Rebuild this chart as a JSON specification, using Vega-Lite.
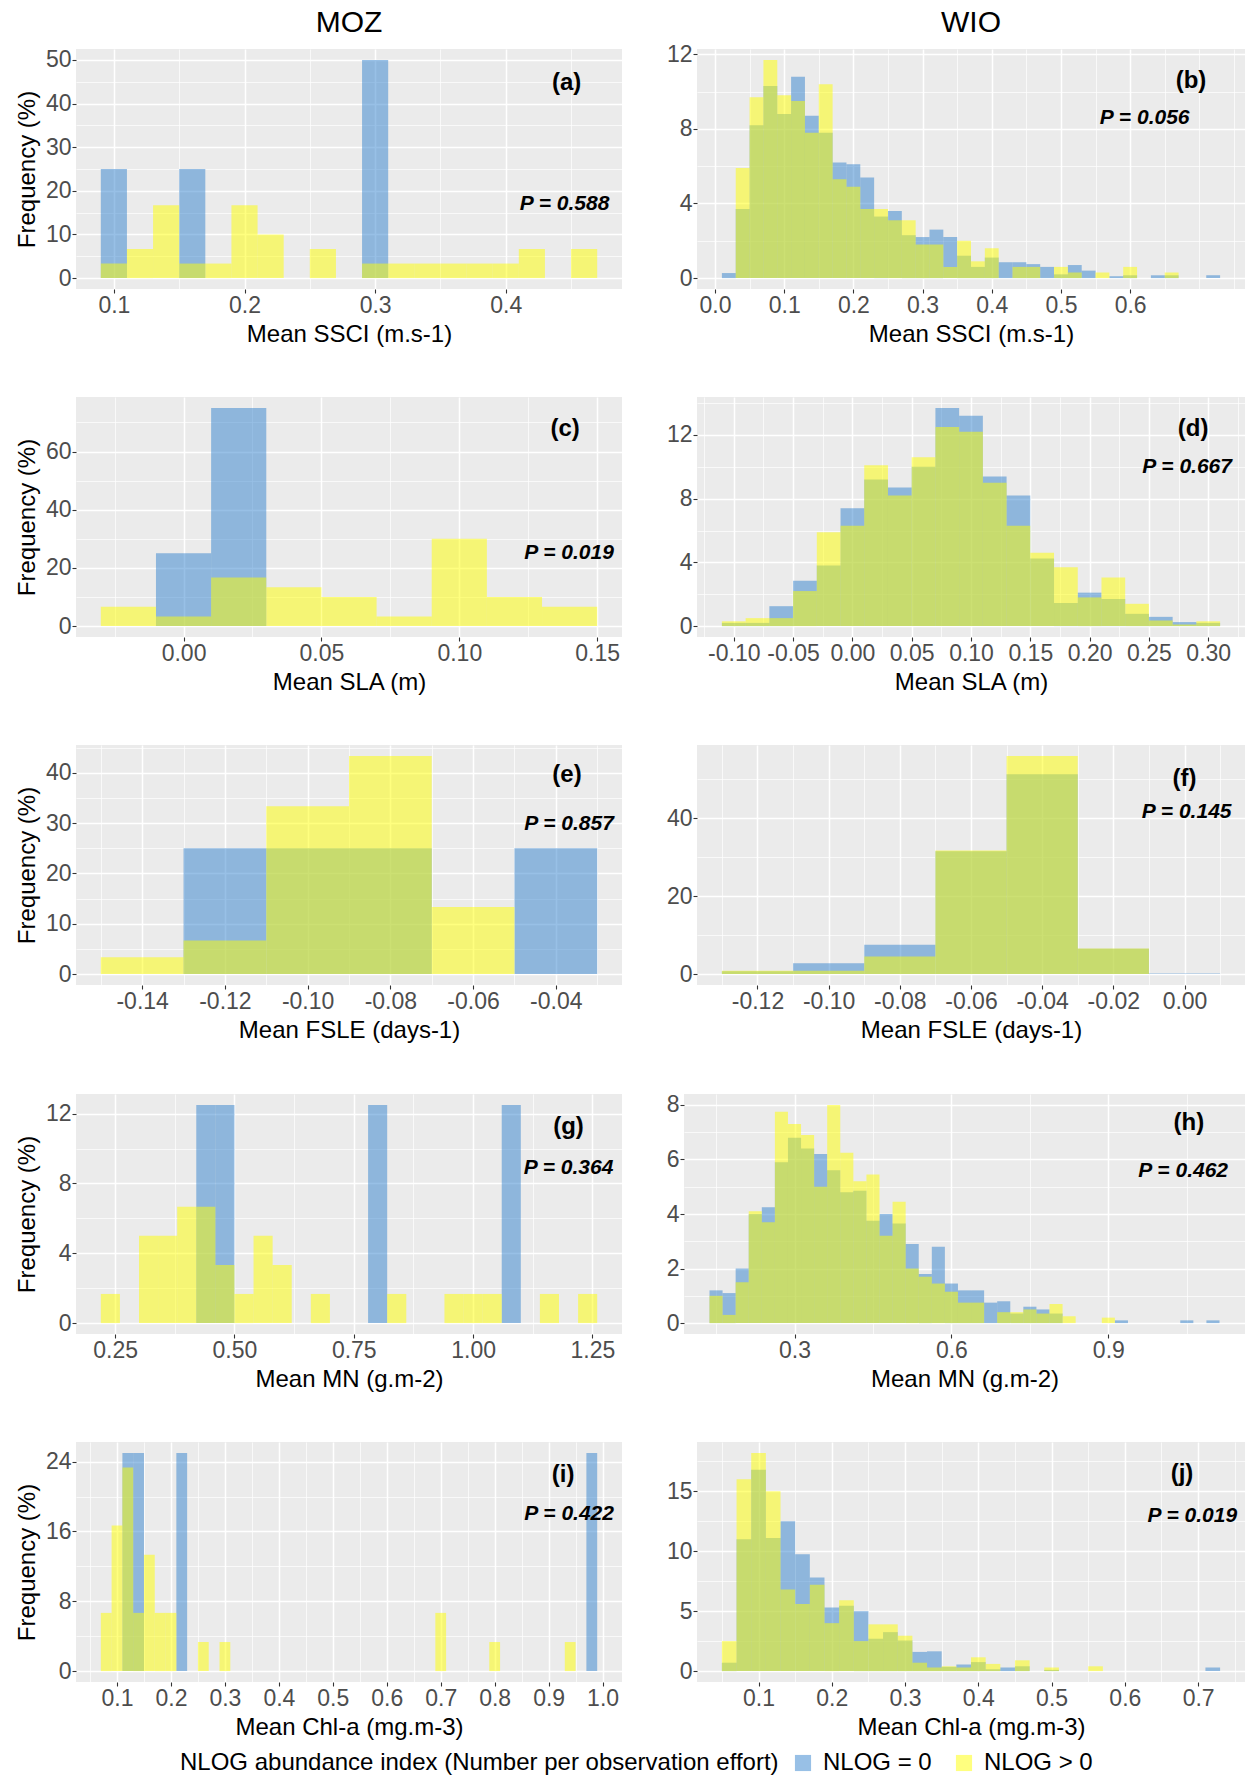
{
"$schema": "https://vega.github.io/schema/vega-lite/v6.json",
"background": "#ffffff",
"padding": {"left": 15, "top": 8, "right": 0, "bottom": 0},
"datasets": {"h": [
{"p":"a","g":"NLOG = 0","lo":0.09,"hi":0.11,"f":25},
{"p":"a","g":"NLOG = 0","lo":0.15,"hi":0.17,"f":25},
{"p":"a","g":"NLOG = 0","lo":0.29,"hi":0.31,"f":50},
{"p":"a","g":"NLOG > 0","lo":0.09,"hi":0.11,"f":3.33},
{"p":"a","g":"NLOG > 0","lo":0.11,"hi":0.13,"f":6.67},
{"p":"a","g":"NLOG > 0","lo":0.13,"hi":0.15,"f":16.67},
{"p":"a","g":"NLOG > 0","lo":0.15,"hi":0.17,"f":3.33},
{"p":"a","g":"NLOG > 0","lo":0.17,"hi":0.19,"f":3.33},
{"p":"a","g":"NLOG > 0","lo":0.19,"hi":0.21,"f":16.67},
{"p":"a","g":"NLOG > 0","lo":0.21,"hi":0.23,"f":10},
{"p":"a","g":"NLOG > 0","lo":0.25,"hi":0.27,"f":6.67},
{"p":"a","g":"NLOG > 0","lo":0.29,"hi":0.31,"f":3.33},
{"p":"a","g":"NLOG > 0","lo":0.31,"hi":0.33,"f":3.33},
{"p":"a","g":"NLOG > 0","lo":0.33,"hi":0.35,"f":3.33},
{"p":"a","g":"NLOG > 0","lo":0.35,"hi":0.37,"f":3.33},
{"p":"a","g":"NLOG > 0","lo":0.37,"hi":0.39,"f":3.33},
{"p":"a","g":"NLOG > 0","lo":0.39,"hi":0.41,"f":3.33},
{"p":"a","g":"NLOG > 0","lo":0.41,"hi":0.43,"f":6.67},
{"p":"a","g":"NLOG > 0","lo":0.45,"hi":0.47,"f":6.67},
{"p":"b","g":"NLOG = 0","lo":0.01,"hi":0.03,"f":0.27},
{"p":"b","g":"NLOG = 0","lo":0.03,"hi":0.05,"f":3.7},
{"p":"b","g":"NLOG = 0","lo":0.05,"hi":0.07,"f":8.2},
{"p":"b","g":"NLOG = 0","lo":0.07,"hi":0.09,"f":10.3},
{"p":"b","g":"NLOG = 0","lo":0.09,"hi":0.11,"f":8.8},
{"p":"b","g":"NLOG = 0","lo":0.11,"hi":0.13,"f":10.8},
{"p":"b","g":"NLOG = 0","lo":0.13,"hi":0.15,"f":8.7},
{"p":"b","g":"NLOG = 0","lo":0.15,"hi":0.17,"f":7.8},
{"p":"b","g":"NLOG = 0","lo":0.17,"hi":0.19,"f":6.2},
{"p":"b","g":"NLOG = 0","lo":0.19,"hi":0.21,"f":6.1},
{"p":"b","g":"NLOG = 0","lo":0.21,"hi":0.23,"f":5.4},
{"p":"b","g":"NLOG = 0","lo":0.23,"hi":0.25,"f":3.3},
{"p":"b","g":"NLOG = 0","lo":0.25,"hi":0.27,"f":3.6},
{"p":"b","g":"NLOG = 0","lo":0.27,"hi":0.29,"f":2.3},
{"p":"b","g":"NLOG = 0","lo":0.29,"hi":0.31,"f":2.2},
{"p":"b","g":"NLOG = 0","lo":0.31,"hi":0.33,"f":2.6},
{"p":"b","g":"NLOG = 0","lo":0.33,"hi":0.35,"f":2.2},
{"p":"b","g":"NLOG = 0","lo":0.35,"hi":0.37,"f":1.2},
{"p":"b","g":"NLOG = 0","lo":0.37,"hi":0.39,"f":0.6},
{"p":"b","g":"NLOG = 0","lo":0.39,"hi":0.41,"f":1.1},
{"p":"b","g":"NLOG = 0","lo":0.41,"hi":0.43,"f":0.85},
{"p":"b","g":"NLOG = 0","lo":0.43,"hi":0.45,"f":0.85},
{"p":"b","g":"NLOG = 0","lo":0.45,"hi":0.47,"f":0.75},
{"p":"b","g":"NLOG = 0","lo":0.47,"hi":0.49,"f":0.6},
{"p":"b","g":"NLOG = 0","lo":0.49,"hi":0.51,"f":0.2},
{"p":"b","g":"NLOG = 0","lo":0.51,"hi":0.53,"f":0.7},
{"p":"b","g":"NLOG = 0","lo":0.53,"hi":0.55,"f":0.4},
{"p":"b","g":"NLOG = 0","lo":0.57,"hi":0.59,"f":0.1},
{"p":"b","g":"NLOG = 0","lo":0.59,"hi":0.61,"f":0.15},
{"p":"b","g":"NLOG = 0","lo":0.63,"hi":0.65,"f":0.15},
{"p":"b","g":"NLOG = 0","lo":0.65,"hi":0.67,"f":0.15},
{"p":"b","g":"NLOG = 0","lo":0.71,"hi":0.73,"f":0.15},
{"p":"b","g":"NLOG > 0","lo":0.03,"hi":0.05,"f":5.9},
{"p":"b","g":"NLOG > 0","lo":0.05,"hi":0.07,"f":9.7},
{"p":"b","g":"NLOG > 0","lo":0.07,"hi":0.09,"f":11.7},
{"p":"b","g":"NLOG > 0","lo":0.09,"hi":0.11,"f":9.8},
{"p":"b","g":"NLOG > 0","lo":0.11,"hi":0.13,"f":9.5},
{"p":"b","g":"NLOG > 0","lo":0.13,"hi":0.15,"f":7.8},
{"p":"b","g":"NLOG > 0","lo":0.15,"hi":0.17,"f":10.4},
{"p":"b","g":"NLOG > 0","lo":0.17,"hi":0.19,"f":5.3},
{"p":"b","g":"NLOG > 0","lo":0.19,"hi":0.21,"f":4.9},
{"p":"b","g":"NLOG > 0","lo":0.21,"hi":0.23,"f":3.7},
{"p":"b","g":"NLOG > 0","lo":0.23,"hi":0.25,"f":3.7},
{"p":"b","g":"NLOG > 0","lo":0.25,"hi":0.27,"f":3.1},
{"p":"b","g":"NLOG > 0","lo":0.27,"hi":0.29,"f":3.1},
{"p":"b","g":"NLOG > 0","lo":0.29,"hi":0.31,"f":1.8},
{"p":"b","g":"NLOG > 0","lo":0.31,"hi":0.33,"f":1.8},
{"p":"b","g":"NLOG > 0","lo":0.33,"hi":0.35,"f":0.6},
{"p":"b","g":"NLOG > 0","lo":0.35,"hi":0.37,"f":2.0},
{"p":"b","g":"NLOG > 0","lo":0.37,"hi":0.39,"f":0.9},
{"p":"b","g":"NLOG > 0","lo":0.39,"hi":0.41,"f":1.6},
{"p":"b","g":"NLOG > 0","lo":0.43,"hi":0.45,"f":0.6},
{"p":"b","g":"NLOG > 0","lo":0.45,"hi":0.47,"f":0.6},
{"p":"b","g":"NLOG > 0","lo":0.49,"hi":0.51,"f":0.6},
{"p":"b","g":"NLOG > 0","lo":0.51,"hi":0.53,"f":0.3},
{"p":"b","g":"NLOG > 0","lo":0.55,"hi":0.57,"f":0.3},
{"p":"b","g":"NLOG > 0","lo":0.59,"hi":0.61,"f":0.6},
{"p":"b","g":"NLOG > 0","lo":0.65,"hi":0.67,"f":0.3},
{"p":"c","g":"NLOG = 0","lo":-0.01,"hi":0.01,"f":25},
{"p":"c","g":"NLOG = 0","lo":0.01,"hi":0.03,"f":75},
{"p":"c","g":"NLOG > 0","lo":-0.03,"hi":-0.01,"f":6.67},
{"p":"c","g":"NLOG > 0","lo":-0.01,"hi":0.01,"f":3.33},
{"p":"c","g":"NLOG > 0","lo":0.01,"hi":0.03,"f":16.67},
{"p":"c","g":"NLOG > 0","lo":0.03,"hi":0.05,"f":13.33},
{"p":"c","g":"NLOG > 0","lo":0.05,"hi":0.07,"f":10},
{"p":"c","g":"NLOG > 0","lo":0.07,"hi":0.09,"f":3.33},
{"p":"c","g":"NLOG > 0","lo":0.09,"hi":0.11,"f":30},
{"p":"c","g":"NLOG > 0","lo":0.11,"hi":0.13,"f":10},
{"p":"c","g":"NLOG > 0","lo":0.13,"hi":0.15,"f":6.67},
{"p":"d","g":"NLOG = 0","lo":-0.11,"hi":-0.09,"f":0.2},
{"p":"d","g":"NLOG = 0","lo":-0.09,"hi":-0.07,"f":0.2},
{"p":"d","g":"NLOG = 0","lo":-0.07,"hi":-0.05,"f":1.25},
{"p":"d","g":"NLOG = 0","lo":-0.05,"hi":-0.03,"f":2.85},
{"p":"d","g":"NLOG = 0","lo":-0.03,"hi":-0.01,"f":3.8},
{"p":"d","g":"NLOG = 0","lo":-0.01,"hi":0.01,"f":7.4},
{"p":"d","g":"NLOG = 0","lo":0.01,"hi":0.03,"f":9.2},
{"p":"d","g":"NLOG = 0","lo":0.03,"hi":0.05,"f":8.7},
{"p":"d","g":"NLOG = 0","lo":0.05,"hi":0.07,"f":10.0},
{"p":"d","g":"NLOG = 0","lo":0.07,"hi":0.09,"f":13.7},
{"p":"d","g":"NLOG = 0","lo":0.09,"hi":0.11,"f":13.2},
{"p":"d","g":"NLOG = 0","lo":0.11,"hi":0.13,"f":9.4},
{"p":"d","g":"NLOG = 0","lo":0.13,"hi":0.15,"f":8.2},
{"p":"d","g":"NLOG = 0","lo":0.15,"hi":0.17,"f":4.25},
{"p":"d","g":"NLOG = 0","lo":0.17,"hi":0.19,"f":1.45},
{"p":"d","g":"NLOG = 0","lo":0.19,"hi":0.21,"f":2.1},
{"p":"d","g":"NLOG = 0","lo":0.21,"hi":0.23,"f":1.7},
{"p":"d","g":"NLOG = 0","lo":0.23,"hi":0.25,"f":0.77},
{"p":"d","g":"NLOG = 0","lo":0.25,"hi":0.27,"f":0.58},
{"p":"d","g":"NLOG = 0","lo":0.27,"hi":0.29,"f":0.25},
{"p":"d","g":"NLOG = 0","lo":0.29,"hi":0.31,"f":0.2},
{"p":"d","g":"NLOG > 0","lo":-0.11,"hi":-0.09,"f":0.3},
{"p":"d","g":"NLOG > 0","lo":-0.09,"hi":-0.07,"f":0.5},
{"p":"d","g":"NLOG > 0","lo":-0.07,"hi":-0.05,"f":0.5},
{"p":"d","g":"NLOG > 0","lo":-0.05,"hi":-0.03,"f":2.2},
{"p":"d","g":"NLOG > 0","lo":-0.03,"hi":-0.01,"f":5.9},
{"p":"d","g":"NLOG > 0","lo":-0.01,"hi":0.01,"f":6.3},
{"p":"d","g":"NLOG > 0","lo":0.01,"hi":0.03,"f":10.1},
{"p":"d","g":"NLOG > 0","lo":0.03,"hi":0.05,"f":8.2},
{"p":"d","g":"NLOG > 0","lo":0.05,"hi":0.07,"f":10.6},
{"p":"d","g":"NLOG > 0","lo":0.07,"hi":0.09,"f":12.5},
{"p":"d","g":"NLOG > 0","lo":0.09,"hi":0.11,"f":12.2},
{"p":"d","g":"NLOG > 0","lo":0.11,"hi":0.13,"f":9.0},
{"p":"d","g":"NLOG > 0","lo":0.13,"hi":0.15,"f":6.3},
{"p":"d","g":"NLOG > 0","lo":0.15,"hi":0.17,"f":4.6},
{"p":"d","g":"NLOG > 0","lo":0.17,"hi":0.19,"f":3.7},
{"p":"d","g":"NLOG > 0","lo":0.19,"hi":0.21,"f":1.8},
{"p":"d","g":"NLOG > 0","lo":0.21,"hi":0.23,"f":3.05},
{"p":"d","g":"NLOG > 0","lo":0.23,"hi":0.25,"f":1.4},
{"p":"d","g":"NLOG > 0","lo":0.25,"hi":0.27,"f":0.35},
{"p":"d","g":"NLOG > 0","lo":0.27,"hi":0.29,"f":0.1},
{"p":"d","g":"NLOG > 0","lo":0.29,"hi":0.31,"f":0.3},
{"p":"e","g":"NLOG = 0","lo":-0.13,"hi":-0.11,"f":25},
{"p":"e","g":"NLOG = 0","lo":-0.11,"hi":-0.09,"f":25},
{"p":"e","g":"NLOG = 0","lo":-0.09,"hi":-0.07,"f":25},
{"p":"e","g":"NLOG = 0","lo":-0.05,"hi":-0.03,"f":25},
{"p":"e","g":"NLOG > 0","lo":-0.15,"hi":-0.13,"f":3.33},
{"p":"e","g":"NLOG > 0","lo":-0.13,"hi":-0.11,"f":6.67},
{"p":"e","g":"NLOG > 0","lo":-0.11,"hi":-0.09,"f":33.33},
{"p":"e","g":"NLOG > 0","lo":-0.09,"hi":-0.07,"f":43.33},
{"p":"e","g":"NLOG > 0","lo":-0.07,"hi":-0.05,"f":13.33},
{"p":"f","g":"NLOG = 0","lo":-0.13,"hi":-0.11,"f":0.7},
{"p":"f","g":"NLOG = 0","lo":-0.11,"hi":-0.09,"f":2.8},
{"p":"f","g":"NLOG = 0","lo":-0.09,"hi":-0.07,"f":7.5},
{"p":"f","g":"NLOG = 0","lo":-0.07,"hi":-0.05,"f":31.5},
{"p":"f","g":"NLOG = 0","lo":-0.05,"hi":-0.03,"f":51.3},
{"p":"f","g":"NLOG = 0","lo":-0.03,"hi":-0.01,"f":6.5},
{"p":"f","g":"NLOG = 0","lo":-0.01,"hi":0.01,"f":0.15},
{"p":"f","g":"NLOG > 0","lo":-0.13,"hi":-0.11,"f":0.85},
{"p":"f","g":"NLOG > 0","lo":-0.11,"hi":-0.09,"f":0.85},
{"p":"f","g":"NLOG > 0","lo":-0.09,"hi":-0.07,"f":4.5},
{"p":"f","g":"NLOG > 0","lo":-0.07,"hi":-0.05,"f":31.7},
{"p":"f","g":"NLOG > 0","lo":-0.05,"hi":-0.03,"f":56},
{"p":"f","g":"NLOG > 0","lo":-0.03,"hi":-0.01,"f":6.6},
{"p":"g","g":"NLOG = 0","lo":0.42,"hi":0.46,"f":12.5},
{"p":"g","g":"NLOG = 0","lo":0.46,"hi":0.50,"f":12.5},
{"p":"g","g":"NLOG = 0","lo":0.78,"hi":0.82,"f":12.5},
{"p":"g","g":"NLOG = 0","lo":1.06,"hi":1.10,"f":12.5},
{"p":"g","g":"NLOG > 0","lo":0.22,"hi":0.26,"f":1.67},
{"p":"g","g":"NLOG > 0","lo":0.30,"hi":0.34,"f":5},
{"p":"g","g":"NLOG > 0","lo":0.34,"hi":0.38,"f":5},
{"p":"g","g":"NLOG > 0","lo":0.38,"hi":0.42,"f":6.67},
{"p":"g","g":"NLOG > 0","lo":0.42,"hi":0.46,"f":6.67},
{"p":"g","g":"NLOG > 0","lo":0.46,"hi":0.50,"f":3.33},
{"p":"g","g":"NLOG > 0","lo":0.50,"hi":0.54,"f":1.67},
{"p":"g","g":"NLOG > 0","lo":0.54,"hi":0.58,"f":5},
{"p":"g","g":"NLOG > 0","lo":0.58,"hi":0.62,"f":3.33},
{"p":"g","g":"NLOG > 0","lo":0.66,"hi":0.70,"f":1.67},
{"p":"g","g":"NLOG > 0","lo":0.82,"hi":0.86,"f":1.67},
{"p":"g","g":"NLOG > 0","lo":0.94,"hi":0.98,"f":1.67},
{"p":"g","g":"NLOG > 0","lo":0.98,"hi":1.02,"f":1.67},
{"p":"g","g":"NLOG > 0","lo":1.02,"hi":1.06,"f":1.67},
{"p":"g","g":"NLOG > 0","lo":1.14,"hi":1.18,"f":1.67},
{"p":"g","g":"NLOG > 0","lo":1.22,"hi":1.26,"f":1.67},
{"p":"h","g":"NLOG = 0","lo":0.1375,"hi":0.1625,"f":1.2},
{"p":"h","g":"NLOG = 0","lo":0.1625,"hi":0.1875,"f":1.1},
{"p":"h","g":"NLOG = 0","lo":0.1875,"hi":0.2125,"f":2.0},
{"p":"h","g":"NLOG = 0","lo":0.2125,"hi":0.2375,"f":4.0},
{"p":"h","g":"NLOG = 0","lo":0.2375,"hi":0.2625,"f":4.25},
{"p":"h","g":"NLOG = 0","lo":0.2625,"hi":0.2875,"f":5.9},
{"p":"h","g":"NLOG = 0","lo":0.2875,"hi":0.3125,"f":6.8},
{"p":"h","g":"NLOG = 0","lo":0.3125,"hi":0.3375,"f":6.4},
{"p":"h","g":"NLOG = 0","lo":0.3375,"hi":0.3625,"f":6.2},
{"p":"h","g":"NLOG = 0","lo":0.3625,"hi":0.3875,"f":5.6},
{"p":"h","g":"NLOG = 0","lo":0.3875,"hi":0.4125,"f":4.8},
{"p":"h","g":"NLOG = 0","lo":0.4125,"hi":0.4375,"f":4.85},
{"p":"h","g":"NLOG = 0","lo":0.4375,"hi":0.4625,"f":3.75},
{"p":"h","g":"NLOG = 0","lo":0.4625,"hi":0.4875,"f":4.0},
{"p":"h","g":"NLOG = 0","lo":0.4875,"hi":0.5125,"f":3.65},
{"p":"h","g":"NLOG = 0","lo":0.5125,"hi":0.5375,"f":2.9},
{"p":"h","g":"NLOG = 0","lo":0.5375,"hi":0.5625,"f":1.8},
{"p":"h","g":"NLOG = 0","lo":0.5625,"hi":0.5875,"f":2.8},
{"p":"h","g":"NLOG = 0","lo":0.5875,"hi":0.6125,"f":1.45},
{"p":"h","g":"NLOG = 0","lo":0.6125,"hi":0.6375,"f":1.2},
{"p":"h","g":"NLOG = 0","lo":0.6375,"hi":0.6625,"f":1.2},
{"p":"h","g":"NLOG = 0","lo":0.6625,"hi":0.6875,"f":0.75},
{"p":"h","g":"NLOG = 0","lo":0.6875,"hi":0.7125,"f":0.8},
{"p":"h","g":"NLOG = 0","lo":0.7125,"hi":0.7375,"f":0.35},
{"p":"h","g":"NLOG = 0","lo":0.7375,"hi":0.7625,"f":0.6},
{"p":"h","g":"NLOG = 0","lo":0.7625,"hi":0.7875,"f":0.5},
{"p":"h","g":"NLOG = 0","lo":0.7875,"hi":0.8125,"f":0.35},
{"p":"h","g":"NLOG = 0","lo":0.9125,"hi":0.9375,"f":0.1},
{"p":"h","g":"NLOG = 0","lo":1.0375,"hi":1.0625,"f":0.1},
{"p":"h","g":"NLOG = 0","lo":1.0875,"hi":1.1125,"f":0.1},
{"p":"h","g":"NLOG > 0","lo":0.1375,"hi":0.1625,"f":1.0},
{"p":"h","g":"NLOG > 0","lo":0.1625,"hi":0.1875,"f":0.3},
{"p":"h","g":"NLOG > 0","lo":0.1875,"hi":0.2125,"f":1.5},
{"p":"h","g":"NLOG > 0","lo":0.2125,"hi":0.2375,"f":4.1},
{"p":"h","g":"NLOG > 0","lo":0.2375,"hi":0.2625,"f":3.7},
{"p":"h","g":"NLOG > 0","lo":0.2625,"hi":0.2875,"f":7.75},
{"p":"h","g":"NLOG > 0","lo":0.2875,"hi":0.3125,"f":7.3},
{"p":"h","g":"NLOG > 0","lo":0.3125,"hi":0.3375,"f":6.9},
{"p":"h","g":"NLOG > 0","lo":0.3375,"hi":0.3625,"f":5.0},
{"p":"h","g":"NLOG > 0","lo":0.3625,"hi":0.3875,"f":8.0},
{"p":"h","g":"NLOG > 0","lo":0.3875,"hi":0.4125,"f":6.25},
{"p":"h","g":"NLOG > 0","lo":0.4125,"hi":0.4375,"f":5.2},
{"p":"h","g":"NLOG > 0","lo":0.4375,"hi":0.4625,"f":5.45},
{"p":"h","g":"NLOG > 0","lo":0.4625,"hi":0.4875,"f":3.2},
{"p":"h","g":"NLOG > 0","lo":0.4875,"hi":0.5125,"f":4.45},
{"p":"h","g":"NLOG > 0","lo":0.5125,"hi":0.5375,"f":2.0},
{"p":"h","g":"NLOG > 0","lo":0.5375,"hi":0.5625,"f":1.7},
{"p":"h","g":"NLOG > 0","lo":0.5625,"hi":0.5875,"f":1.45},
{"p":"h","g":"NLOG > 0","lo":0.5875,"hi":0.6125,"f":1.15},
{"p":"h","g":"NLOG > 0","lo":0.6125,"hi":0.6375,"f":0.75},
{"p":"h","g":"NLOG > 0","lo":0.6375,"hi":0.6625,"f":0.75},
{"p":"h","g":"NLOG > 0","lo":0.6875,"hi":0.7125,"f":0.4},
{"p":"h","g":"NLOG > 0","lo":0.7125,"hi":0.7375,"f":0.4},
{"p":"h","g":"NLOG > 0","lo":0.7375,"hi":0.7625,"f":0.5},
{"p":"h","g":"NLOG > 0","lo":0.7625,"hi":0.7875,"f":0.35},
{"p":"h","g":"NLOG > 0","lo":0.7875,"hi":0.8125,"f":0.7},
{"p":"h","g":"NLOG > 0","lo":0.8125,"hi":0.8375,"f":0.25},
{"p":"h","g":"NLOG > 0","lo":0.8875,"hi":0.9125,"f":0.2},
{"p":"i","g":"NLOG = 0","lo":0.11,"hi":0.13,"f":25},
{"p":"i","g":"NLOG = 0","lo":0.13,"hi":0.15,"f":25},
{"p":"i","g":"NLOG = 0","lo":0.21,"hi":0.23,"f":25},
{"p":"i","g":"NLOG = 0","lo":0.97,"hi":0.99,"f":25},
{"p":"i","g":"NLOG > 0","lo":0.07,"hi":0.09,"f":6.67},
{"p":"i","g":"NLOG > 0","lo":0.09,"hi":0.11,"f":16.67},
{"p":"i","g":"NLOG > 0","lo":0.11,"hi":0.13,"f":23.33},
{"p":"i","g":"NLOG > 0","lo":0.13,"hi":0.15,"f":6.67},
{"p":"i","g":"NLOG > 0","lo":0.15,"hi":0.17,"f":13.33},
{"p":"i","g":"NLOG > 0","lo":0.17,"hi":0.19,"f":6.67},
{"p":"i","g":"NLOG > 0","lo":0.19,"hi":0.21,"f":6.67},
{"p":"i","g":"NLOG > 0","lo":0.25,"hi":0.27,"f":3.33},
{"p":"i","g":"NLOG > 0","lo":0.29,"hi":0.31,"f":3.33},
{"p":"i","g":"NLOG > 0","lo":0.69,"hi":0.71,"f":6.67},
{"p":"i","g":"NLOG > 0","lo":0.79,"hi":0.81,"f":3.33},
{"p":"i","g":"NLOG > 0","lo":0.93,"hi":0.95,"f":3.33},
{"p":"j","g":"NLOG = 0","lo":0.05,"hi":0.07,"f":0.7},
{"p":"j","g":"NLOG = 0","lo":0.07,"hi":0.09,"f":11.0},
{"p":"j","g":"NLOG = 0","lo":0.09,"hi":0.11,"f":16.8},
{"p":"j","g":"NLOG = 0","lo":0.11,"hi":0.13,"f":11.1},
{"p":"j","g":"NLOG = 0","lo":0.13,"hi":0.15,"f":12.5},
{"p":"j","g":"NLOG = 0","lo":0.15,"hi":0.17,"f":9.75},
{"p":"j","g":"NLOG = 0","lo":0.17,"hi":0.19,"f":7.8},
{"p":"j","g":"NLOG = 0","lo":0.19,"hi":0.21,"f":5.3},
{"p":"j","g":"NLOG = 0","lo":0.21,"hi":0.23,"f":5.45},
{"p":"j","g":"NLOG = 0","lo":0.23,"hi":0.25,"f":5.0},
{"p":"j","g":"NLOG = 0","lo":0.25,"hi":0.27,"f":2.7},
{"p":"j","g":"NLOG = 0","lo":0.27,"hi":0.29,"f":3.25},
{"p":"j","g":"NLOG = 0","lo":0.29,"hi":0.31,"f":2.55},
{"p":"j","g":"NLOG = 0","lo":0.31,"hi":0.33,"f":1.6},
{"p":"j","g":"NLOG = 0","lo":0.33,"hi":0.35,"f":1.65},
{"p":"j","g":"NLOG = 0","lo":0.35,"hi":0.37,"f":0.35},
{"p":"j","g":"NLOG = 0","lo":0.37,"hi":0.39,"f":0.55},
{"p":"j","g":"NLOG = 0","lo":0.39,"hi":0.41,"f":0.75},
{"p":"j","g":"NLOG = 0","lo":0.41,"hi":0.43,"f":0.15},
{"p":"j","g":"NLOG = 0","lo":0.43,"hi":0.45,"f":0.3},
{"p":"j","g":"NLOG = 0","lo":0.45,"hi":0.47,"f":0.4},
{"p":"j","g":"NLOG = 0","lo":0.49,"hi":0.51,"f":0.1},
{"p":"j","g":"NLOG = 0","lo":0.71,"hi":0.73,"f":0.3},
{"p":"j","g":"NLOG > 0","lo":0.05,"hi":0.07,"f":2.5},
{"p":"j","g":"NLOG > 0","lo":0.07,"hi":0.09,"f":16.0},
{"p":"j","g":"NLOG > 0","lo":0.09,"hi":0.11,"f":18.2},
{"p":"j","g":"NLOG > 0","lo":0.11,"hi":0.13,"f":15.0},
{"p":"j","g":"NLOG > 0","lo":0.13,"hi":0.15,"f":6.8},
{"p":"j","g":"NLOG > 0","lo":0.15,"hi":0.17,"f":5.6},
{"p":"j","g":"NLOG > 0","lo":0.17,"hi":0.19,"f":7.2},
{"p":"j","g":"NLOG > 0","lo":0.19,"hi":0.21,"f":4.0},
{"p":"j","g":"NLOG > 0","lo":0.21,"hi":0.23,"f":5.9},
{"p":"j","g":"NLOG > 0","lo":0.23,"hi":0.25,"f":2.5},
{"p":"j","g":"NLOG > 0","lo":0.25,"hi":0.27,"f":3.9},
{"p":"j","g":"NLOG > 0","lo":0.27,"hi":0.29,"f":3.9},
{"p":"j","g":"NLOG > 0","lo":0.29,"hi":0.31,"f":2.95},
{"p":"j","g":"NLOG > 0","lo":0.31,"hi":0.33,"f":0.7},
{"p":"j","g":"NLOG > 0","lo":0.33,"hi":0.35,"f":0.3},
{"p":"j","g":"NLOG > 0","lo":0.35,"hi":0.37,"f":0.4},
{"p":"j","g":"NLOG > 0","lo":0.37,"hi":0.39,"f":0.3},
{"p":"j","g":"NLOG > 0","lo":0.39,"hi":0.41,"f":1.15},
{"p":"j","g":"NLOG > 0","lo":0.41,"hi":0.43,"f":0.6},
{"p":"j","g":"NLOG > 0","lo":0.45,"hi":0.47,"f":0.9},
{"p":"j","g":"NLOG > 0","lo":0.49,"hi":0.51,"f":0.3},
{"p":"j","g":"NLOG > 0","lo":0.55,"hi":0.57,"f":0.4}
]},
"spacing": 51,
"vconcat": [
{"spacing": 44, "hconcat": [
{"width": 546, "height": 240,
 "title": {"text": "MOZ", "fontSize": 30, "fontWeight": "normal", "font": "Liberation Sans", "color": "#000000", "anchor": "middle", "frame": "group", "offset": -13.5, "baseline": "alphabetic"},
 "resolve": {"axis": {"x": "independent", "y": "independent"}},
 "layer": [
  {"data": {"name": "h"}, "transform": [{"filter": "datum.p == 'a'"}], "mark": {"type": "bar", "opacity": 0.5},
   "encoding": {
    "x": {"field": "lo", "type": "quantitative", "scale": {"domain": [0.071, 0.489], "nice": false, "zero": false},
     "axis": {"title": "Mean SSCI (m.s-1)", "values": [0.1,0.2,0.3,0.4], "format": ".1f", "labelExpr": "replace(datum.label, '\u2212', '-')"}},
    "x2": {"field": "hi"},
    "y": {"field": "f", "type": "quantitative", "stack": null, "scale": {"domain": [-2.5, 52.5], "nice": false, "zero": false},
     "axis": {"title": "Frequency (%)", "values": [0,10,20,30,40,50], "format": "d"}},
    "y2": {"datum": 0},
    "color": {"field": "g", "type": "nominal", "scale": {"domain": ["NLOG = 0", "NLOG > 0"], "range": ["#3282cd", "#ffff00"]}, "legend": {"title": "NLOG abundance index (Number per observation effort)"}}
   }},
  {"data": {"values": [{}]}, "mark": {"type": "text", "font": "Liberation Sans", "fontSize": 24, "fontWeight": "bold", "color": "#000000"},
   "encoding": {"x": {"datum": 0.4466, "type": "quantitative", "scale": {"domain": [0.071, 0.489], "nice": false, "zero": false}, "axis": {"orient": "top", "values": [0.15,0.25,0.35,0.45], "grid": true, "gridWidth": 0.7, "labels": false, "ticks": false, "domain": false, "title": null, "minExtent": 0, "maxExtent": 0}},
    "y": {"datum": 44.7, "type": "quantitative", "scale": {"domain": [-2.5, 52.5], "nice": false, "zero": false}, "axis": {"orient": "right", "values": [5,15,25,35,45], "grid": true, "gridWidth": 0.7, "labels": false, "ticks": false, "domain": false, "title": null, "minExtent": 0, "maxExtent": 0}},
    "text": {"value": "(a)"}}},
  {"data": {"values": [{}]}, "mark": {"type": "text", "font": "Liberation Sans", "fontSize": 21, "fontWeight": "bold", "fontStyle": "italic", "color": "#000000"},
   "encoding": {"x": {"datum": 0.445, "type": "quantitative", "scale": {"domain": [0.071, 0.489], "nice": false, "zero": false}, "axis": null}, "y": {"datum": 16.9, "type": "quantitative", "scale": {"domain": [-2.5, 52.5], "nice": false, "zero": false}, "axis": null}, "text": {"value": "P = 0.588"}}}
 ]},
{"width": 548, "height": 240,
 "title": {"text": "WIO", "fontSize": 30, "fontWeight": "normal", "font": "Liberation Sans", "color": "#000000", "anchor": "middle", "frame": "group", "offset": -18.9, "baseline": "alphabetic"},
 "resolve": {"axis": {"x": "independent", "y": "independent"}},
 "layer": [
  {"data": {"name": "h"}, "transform": [{"filter": "datum.p == 'b'"}], "mark": {"type": "bar", "opacity": 0.5},
   "encoding": {
    "x": {"field": "lo", "type": "quantitative", "scale": {"domain": [-0.026, 0.766], "nice": false, "zero": false},
     "axis": {"title": "Mean SSCI (m.s-1)", "values": [0,0.1,0.2,0.3,0.4,0.5,0.6], "format": ".1f", "labelExpr": "replace(datum.label, '\u2212', '-')"}},
    "x2": {"field": "hi"},
    "y": {"field": "f", "type": "quantitative", "stack": null, "scale": {"domain": [-0.585, 12.285], "nice": false, "zero": false},
     "axis": {"title": null, "values": [0,4,8,12], "format": "d"}},
    "y2": {"datum": 0},
    "color": {"field": "g", "type": "nominal", "scale": {"domain": ["NLOG = 0", "NLOG > 0"], "range": ["#3282cd", "#ffff00"]}, "legend": {"title": "NLOG abundance index (Number per observation effort)"}}
   }},
  {"data": {"values": [{}]}, "mark": {"type": "text", "font": "Liberation Sans", "fontSize": 24, "fontWeight": "bold", "color": "#000000"},
   "encoding": {"x": {"datum": 0.688, "type": "quantitative", "scale": {"domain": [-0.026, 0.766], "nice": false, "zero": false}, "axis": {"orient": "top", "values": [0.05,0.15,0.25,0.35,0.45,0.55,0.65,0.7,0.75], "grid": true, "gridWidth": 0.7, "labels": false, "ticks": false, "domain": false, "title": null, "minExtent": 0, "maxExtent": 0}},
    "y": {"datum": 10.58, "type": "quantitative", "scale": {"domain": [-0.585, 12.285], "nice": false, "zero": false}, "axis": {"orient": "right", "values": [2,6,10], "grid": true, "gridWidth": 0.7, "labels": false, "ticks": false, "domain": false, "title": null, "minExtent": 0, "maxExtent": 0}},
    "text": {"value": "(b)"}}},
  {"data": {"values": [{}]}, "mark": {"type": "text", "font": "Liberation Sans", "fontSize": 21, "fontWeight": "bold", "fontStyle": "italic", "color": "#000000"},
   "encoding": {"x": {"datum": 0.621, "type": "quantitative", "scale": {"domain": [-0.026, 0.766], "nice": false, "zero": false}, "axis": null}, "y": {"datum": 8.6, "type": "quantitative", "scale": {"domain": [-0.585, 12.285], "nice": false, "zero": false}, "axis": null}, "text": {"value": "P = 0.056"}}}
 ]}
]},
{"spacing": 44, "hconcat": [
{"width": 546, "height": 240,
 "resolve": {"axis": {"x": "independent", "y": "independent"}},
 "layer": [
  {"data": {"name": "h"}, "transform": [{"filter": "datum.p == 'c'"}], "mark": {"type": "bar", "opacity": 0.5},
   "encoding": {
    "x": {"field": "lo", "type": "quantitative", "scale": {"domain": [-0.039, 0.159], "nice": false, "zero": false},
     "axis": {"title": "Mean SLA (m)", "values": [0,0.05,0.1,0.15], "format": ".2f", "labelExpr": "replace(datum.label, '\u2212', '-')"}},
    "x2": {"field": "hi"},
    "y": {"field": "f", "type": "quantitative", "stack": null, "scale": {"domain": [-3.75, 78.75], "nice": false, "zero": false},
     "axis": {"title": "Frequency (%)", "values": [0,20,40,60], "format": "d"}},
    "y2": {"datum": 0},
    "color": {"field": "g", "type": "nominal", "scale": {"domain": ["NLOG = 0", "NLOG > 0"], "range": ["#3282cd", "#ffff00"]}, "legend": {"title": "NLOG abundance index (Number per observation effort)"}}
   }},
  {"data": {"values": [{}]}, "mark": {"type": "text", "font": "Liberation Sans", "fontSize": 24, "fontWeight": "bold", "color": "#000000"},
   "encoding": {"x": {"datum": 0.1384, "type": "quantitative", "scale": {"domain": [-0.039, 0.159], "nice": false, "zero": false}, "axis": {"orient": "top", "values": [-0.025,0.025,0.075,0.125], "grid": true, "gridWidth": 0.7, "labels": false, "ticks": false, "domain": false, "title": null, "minExtent": 0, "maxExtent": 0}},
    "y": {"datum": 67.8, "type": "quantitative", "scale": {"domain": [-3.75, 78.75], "nice": false, "zero": false}, "axis": {"orient": "right", "values": [10,30,50,70], "grid": true, "gridWidth": 0.7, "labels": false, "ticks": false, "domain": false, "title": null, "minExtent": 0, "maxExtent": 0}},
    "text": {"value": "(c)"}}},
  {"data": {"values": [{}]}, "mark": {"type": "text", "font": "Liberation Sans", "fontSize": 21, "fontWeight": "bold", "fontStyle": "italic", "color": "#000000"},
   "encoding": {"x": {"datum": 0.1398, "type": "quantitative", "scale": {"domain": [-0.039, 0.159], "nice": false, "zero": false}, "axis": null}, "y": {"datum": 25.2, "type": "quantitative", "scale": {"domain": [-3.75, 78.75], "nice": false, "zero": false}, "axis": null}, "text": {"value": "P = 0.019"}}}
 ]},
{"width": 548, "height": 240,
 "resolve": {"axis": {"x": "independent", "y": "independent"}},
 "layer": [
  {"data": {"name": "h"}, "transform": [{"filter": "datum.p == 'd'"}], "mark": {"type": "bar", "opacity": 0.5},
   "encoding": {
    "x": {"field": "lo", "type": "quantitative", "scale": {"domain": [-0.131, 0.331], "nice": false, "zero": false},
     "axis": {"title": "Mean SLA (m)", "values": [-0.1,-0.05,0,0.05,0.1,0.15,0.2,0.25,0.3], "format": ".2f", "labelExpr": "replace(datum.label, '\u2212', '-')"}},
    "x2": {"field": "hi"},
    "y": {"field": "f", "type": "quantitative", "stack": null, "scale": {"domain": [-0.685, 14.385], "nice": false, "zero": false},
     "axis": {"title": null, "values": [0,4,8,12], "format": "d"}},
    "y2": {"datum": 0},
    "color": {"field": "g", "type": "nominal", "scale": {"domain": ["NLOG = 0", "NLOG > 0"], "range": ["#3282cd", "#ffff00"]}, "legend": {"title": "NLOG abundance index (Number per observation effort)"}}
   }},
  {"data": {"values": [{}]}, "mark": {"type": "text", "font": "Liberation Sans", "fontSize": 24, "fontWeight": "bold", "color": "#000000"},
   "encoding": {"x": {"datum": 0.2873, "type": "quantitative", "scale": {"domain": [-0.131, 0.331], "nice": false, "zero": false}, "axis": {"orient": "top", "values": [-0.125,-0.075,-0.025,0.025,0.075,0.125,0.175,0.225,0.275,0.325], "grid": true, "gridWidth": 0.7, "labels": false, "ticks": false, "domain": false, "title": null, "minExtent": 0, "maxExtent": 0}},
    "y": {"datum": 12.4, "type": "quantitative", "scale": {"domain": [-0.685, 14.385], "nice": false, "zero": false}, "axis": {"orient": "right", "values": [2,6,10,14], "grid": true, "gridWidth": 0.7, "labels": false, "ticks": false, "domain": false, "title": null, "minExtent": 0, "maxExtent": 0}},
    "text": {"value": "(d)"}}},
  {"data": {"values": [{}]}, "mark": {"type": "text", "font": "Liberation Sans", "fontSize": 21, "fontWeight": "bold", "fontStyle": "italic", "color": "#000000"},
   "encoding": {"x": {"datum": 0.2822, "type": "quantitative", "scale": {"domain": [-0.131, 0.331], "nice": false, "zero": false}, "axis": null}, "y": {"datum": 10.0, "type": "quantitative", "scale": {"domain": [-0.685, 14.385], "nice": false, "zero": false}, "axis": null}, "text": {"value": "P = 0.667"}}}
 ]}
]},
{"spacing": 44, "hconcat": [
{"width": 546, "height": 240,
 "resolve": {"axis": {"x": "independent", "y": "independent"}},
 "layer": [
  {"data": {"name": "h"}, "transform": [{"filter": "datum.p == 'e'"}], "mark": {"type": "bar", "opacity": 0.5},
   "encoding": {
    "x": {"field": "lo", "type": "quantitative", "scale": {"domain": [-0.156, -0.024], "nice": false, "zero": false},
     "axis": {"title": "Mean FSLE (days-1)", "values": [-0.14,-0.12,-0.1,-0.08,-0.06,-0.04], "format": ".2f", "labelExpr": "replace(datum.label, '\u2212', '-')"}},
    "x2": {"field": "hi"},
    "y": {"field": "f", "type": "quantitative", "stack": null, "scale": {"domain": [-2.1667, 45.5], "nice": false, "zero": false},
     "axis": {"title": "Frequency (%)", "values": [0,10,20,30,40], "format": "d"}},
    "y2": {"datum": 0},
    "color": {"field": "g", "type": "nominal", "scale": {"domain": ["NLOG = 0", "NLOG > 0"], "range": ["#3282cd", "#ffff00"]}, "legend": {"title": "NLOG abundance index (Number per observation effort)"}}
   }},
  {"data": {"values": [{}]}, "mark": {"type": "text", "font": "Liberation Sans", "fontSize": 24, "fontWeight": "bold", "color": "#000000"},
   "encoding": {"x": {"datum": -0.0373, "type": "quantitative", "scale": {"domain": [-0.156, -0.024], "nice": false, "zero": false}, "axis": {"orient": "top", "values": [-0.15,-0.13,-0.11,-0.09,-0.07,-0.05,-0.03], "grid": true, "gridWidth": 0.7, "labels": false, "ticks": false, "domain": false, "title": null, "minExtent": 0, "maxExtent": 0}},
    "y": {"datum": 39.5, "type": "quantitative", "scale": {"domain": [-2.1667, 45.5], "nice": false, "zero": false}, "axis": {"orient": "right", "values": [5,15,25,35,45], "grid": true, "gridWidth": 0.7, "labels": false, "ticks": false, "domain": false, "title": null, "minExtent": 0, "maxExtent": 0}},
    "text": {"value": "(e)"}}},
  {"data": {"values": [{}]}, "mark": {"type": "text", "font": "Liberation Sans", "fontSize": 21, "fontWeight": "bold", "fontStyle": "italic", "color": "#000000"},
   "encoding": {"x": {"datum": -0.0368, "type": "quantitative", "scale": {"domain": [-0.156, -0.024], "nice": false, "zero": false}, "axis": null}, "y": {"datum": 29.9, "type": "quantitative", "scale": {"domain": [-2.1667, 45.5], "nice": false, "zero": false}, "axis": null}, "text": {"value": "P = 0.857"}}}
 ]},
{"width": 548, "height": 240,
 "resolve": {"axis": {"x": "independent", "y": "independent"}},
 "layer": [
  {"data": {"name": "h"}, "transform": [{"filter": "datum.p == 'f'"}], "mark": {"type": "bar", "opacity": 0.5},
   "encoding": {
    "x": {"field": "lo", "type": "quantitative", "scale": {"domain": [-0.137, 0.017], "nice": false, "zero": false},
     "axis": {"title": "Mean FSLE (days-1)", "values": [-0.12,-0.1,-0.08,-0.06,-0.04,-0.02,0], "format": ".2f", "labelExpr": "replace(datum.label, '\u2212', '-')"}},
    "x2": {"field": "hi"},
    "y": {"field": "f", "type": "quantitative", "stack": null, "scale": {"domain": [-2.8, 58.8], "nice": false, "zero": false},
     "axis": {"title": null, "values": [0,20,40], "format": "d"}},
    "y2": {"datum": 0},
    "color": {"field": "g", "type": "nominal", "scale": {"domain": ["NLOG = 0", "NLOG > 0"], "range": ["#3282cd", "#ffff00"]}, "legend": {"title": "NLOG abundance index (Number per observation effort)"}}
   }},
  {"data": {"values": [{}]}, "mark": {"type": "text", "font": "Liberation Sans", "fontSize": 24, "fontWeight": "bold", "color": "#000000"},
   "encoding": {"x": {"datum": 0.0, "type": "quantitative", "scale": {"domain": [-0.137, 0.017], "nice": false, "zero": false}, "axis": {"orient": "top", "values": [-0.13,-0.11,-0.09,-0.07,-0.05,-0.03,-0.01,0.01], "grid": true, "gridWidth": 0.7, "labels": false, "ticks": false, "domain": false, "title": null, "minExtent": 0, "maxExtent": 0}},
    "y": {"datum": 50.0, "type": "quantitative", "scale": {"domain": [-2.8, 58.8], "nice": false, "zero": false}, "axis": {"orient": "right", "values": [10,30,50], "grid": true, "gridWidth": 0.7, "labels": false, "ticks": false, "domain": false, "title": null, "minExtent": 0, "maxExtent": 0}},
    "text": {"value": "(f)"}}},
  {"data": {"values": [{}]}, "mark": {"type": "text", "font": "Liberation Sans", "fontSize": 21, "fontWeight": "bold", "fontStyle": "italic", "color": "#000000"},
   "encoding": {"x": {"datum": 0.0006, "type": "quantitative", "scale": {"domain": [-0.137, 0.017], "nice": false, "zero": false}, "axis": null}, "y": {"datum": 41.7, "type": "quantitative", "scale": {"domain": [-2.8, 58.8], "nice": false, "zero": false}, "axis": null}, "text": {"value": "P = 0.145"}}}
 ]}
]},
{"spacing": 44, "hconcat": [
{"width": 546, "height": 240,
 "resolve": {"axis": {"x": "independent", "y": "independent"}},
 "layer": [
  {"data": {"name": "h"}, "transform": [{"filter": "datum.p == 'g'"}], "mark": {"type": "bar", "opacity": 0.5},
   "encoding": {
    "x": {"field": "lo", "type": "quantitative", "scale": {"domain": [0.168, 1.312], "nice": false, "zero": false},
     "axis": {"title": "Mean MN (g.m-2)", "values": [0.25,0.5,0.75,1,1.25], "format": ".2f", "labelExpr": "replace(datum.label, '\u2212', '-')"}},
    "x2": {"field": "hi"},
    "y": {"field": "f", "type": "quantitative", "stack": null, "scale": {"domain": [-0.625, 13.125], "nice": false, "zero": false},
     "axis": {"title": "Frequency (%)", "values": [0,4,8,12], "format": "d"}},
    "y2": {"datum": 0},
    "color": {"field": "g", "type": "nominal", "scale": {"domain": ["NLOG = 0", "NLOG > 0"], "range": ["#3282cd", "#ffff00"]}, "legend": {"title": "NLOG abundance index (Number per observation effort)"}}
   }},
  {"data": {"values": [{}]}, "mark": {"type": "text", "font": "Liberation Sans", "fontSize": 24, "fontWeight": "bold", "color": "#000000"},
   "encoding": {"x": {"datum": 1.2, "type": "quantitative", "scale": {"domain": [0.168, 1.312], "nice": false, "zero": false}, "axis": {"orient": "top", "values": [0.375,0.625,0.875,1.125], "grid": true, "gridWidth": 0.7, "labels": false, "ticks": false, "domain": false, "title": null, "minExtent": 0, "maxExtent": 0}},
    "y": {"datum": 11.24, "type": "quantitative", "scale": {"domain": [-0.625, 13.125], "nice": false, "zero": false}, "axis": {"orient": "right", "values": [2,6,10], "grid": true, "gridWidth": 0.7, "labels": false, "ticks": false, "domain": false, "title": null, "minExtent": 0, "maxExtent": 0}},
    "text": {"value": "(g)"}}},
  {"data": {"values": [{}]}, "mark": {"type": "text", "font": "Liberation Sans", "fontSize": 21, "fontWeight": "bold", "fontStyle": "italic", "color": "#000000"},
   "encoding": {"x": {"datum": 1.2, "type": "quantitative", "scale": {"domain": [0.168, 1.312], "nice": false, "zero": false}, "axis": null}, "y": {"datum": 8.9, "type": "quantitative", "scale": {"domain": [-0.625, 13.125], "nice": false, "zero": false}, "axis": null}, "text": {"value": "P = 0.364"}}}
 ]},
{"width": 561, "height": 240,
 "resolve": {"axis": {"x": "independent", "y": "independent"}},
 "layer": [
  {"data": {"name": "h"}, "transform": [{"filter": "datum.p == 'h'"}], "mark": {"type": "bar", "opacity": 0.5},
   "encoding": {
    "x": {"field": "lo", "type": "quantitative", "scale": {"domain": [0.08875, 1.16125], "nice": false, "zero": false},
     "axis": {"title": "Mean MN (g.m-2)", "values": [0.3,0.6,0.9], "format": ".1f", "labelExpr": "replace(datum.label, '\u2212', '-')"}},
    "x2": {"field": "hi"},
    "y": {"field": "f", "type": "quantitative", "stack": null, "scale": {"domain": [-0.4, 8.4], "nice": false, "zero": false},
     "axis": {"title": null, "values": [0,2,4,6,8], "format": "d"}},
    "y2": {"datum": 0},
    "color": {"field": "g", "type": "nominal", "scale": {"domain": ["NLOG = 0", "NLOG > 0"], "range": ["#3282cd", "#ffff00"]}, "legend": {"title": "NLOG abundance index (Number per observation effort)"}}
   }},
  {"data": {"values": [{}]}, "mark": {"type": "text", "font": "Liberation Sans", "fontSize": 24, "fontWeight": "bold", "color": "#000000"},
   "encoding": {"x": {"datum": 1.054, "type": "quantitative", "scale": {"domain": [0.08875, 1.16125], "nice": false, "zero": false}, "axis": {"orient": "top", "values": [0.15,0.45,0.75,1.05], "grid": true, "gridWidth": 0.7, "labels": false, "ticks": false, "domain": false, "title": null, "minExtent": 0, "maxExtent": 0}},
    "y": {"datum": 7.33, "type": "quantitative", "scale": {"domain": [-0.4, 8.4], "nice": false, "zero": false}, "axis": {"orient": "right", "values": [1,3,5,7], "grid": true, "gridWidth": 0.7, "labels": false, "ticks": false, "domain": false, "title": null, "minExtent": 0, "maxExtent": 0}},
    "text": {"value": "(h)"}}},
  {"data": {"values": [{}]}, "mark": {"type": "text", "font": "Liberation Sans", "fontSize": 21, "fontWeight": "bold", "fontStyle": "italic", "color": "#000000"},
   "encoding": {"x": {"datum": 1.043, "type": "quantitative", "scale": {"domain": [0.08875, 1.16125], "nice": false, "zero": false}, "axis": null}, "y": {"datum": 5.58, "type": "quantitative", "scale": {"domain": [-0.4, 8.4], "nice": false, "zero": false}, "axis": null}, "text": {"value": "P = 0.462"}}}
 ]}
]},
{"spacing": 44, "hconcat": [
{"width": 546, "height": 240,
 "resolve": {"axis": {"x": "independent", "y": "independent"}},
 "layer": [
  {"data": {"name": "h"}, "transform": [{"filter": "datum.p == 'i'"}], "mark": {"type": "bar", "opacity": 0.5},
   "encoding": {
    "x": {"field": "lo", "type": "quantitative", "scale": {"domain": [0.024, 1.036], "nice": false, "zero": false},
     "axis": {"title": "Mean Chl-a (mg.m-3)", "values": [0.1,0.2,0.3,0.4,0.5,0.6,0.7,0.8,0.9,1.0], "format": ".1f", "labelExpr": "replace(datum.label, '\u2212', '-')"}},
    "x2": {"field": "hi"},
    "y": {"field": "f", "type": "quantitative", "stack": null, "scale": {"domain": [-1.25, 26.25], "nice": false, "zero": false},
     "axis": {"title": "Frequency (%)", "values": [0,8,16,24], "format": "d"}},
    "y2": {"datum": 0},
    "color": {"field": "g", "type": "nominal", "scale": {"domain": ["NLOG = 0", "NLOG > 0"], "range": ["#3282cd", "#ffff00"]}, "legend": {"title": "NLOG abundance index (Number per observation effort)"}}
   }},
  {"data": {"values": [{}]}, "mark": {"type": "text", "font": "Liberation Sans", "fontSize": 24, "fontWeight": "bold", "color": "#000000"},
   "encoding": {"x": {"datum": 0.927, "type": "quantitative", "scale": {"domain": [0.024, 1.036], "nice": false, "zero": false}, "axis": {"orient": "top", "values": [0.05,0.15,0.25,0.35,0.45,0.55,0.65,0.75,0.85,0.95], "grid": true, "gridWidth": 0.7, "labels": false, "ticks": false, "domain": false, "title": null, "minExtent": 0, "maxExtent": 0}},
    "y": {"datum": 22.5, "type": "quantitative", "scale": {"domain": [-1.25, 26.25], "nice": false, "zero": false}, "axis": {"orient": "right", "values": [4,12,20], "grid": true, "gridWidth": 0.7, "labels": false, "ticks": false, "domain": false, "title": null, "minExtent": 0, "maxExtent": 0}},
    "text": {"value": "(i)"}}},
  {"data": {"values": [{}]}, "mark": {"type": "text", "font": "Liberation Sans", "fontSize": 21, "fontWeight": "bold", "fontStyle": "italic", "color": "#000000"},
   "encoding": {"x": {"datum": 0.938, "type": "quantitative", "scale": {"domain": [0.024, 1.036], "nice": false, "zero": false}, "axis": null}, "y": {"datum": 18.0, "type": "quantitative", "scale": {"domain": [-1.25, 26.25], "nice": false, "zero": false}, "axis": null}, "text": {"value": "P = 0.422"}}}
 ]},
{"width": 548, "height": 240,
 "resolve": {"axis": {"x": "independent", "y": "independent"}},
 "layer": [
  {"data": {"name": "h"}, "transform": [{"filter": "datum.p == 'j'"}], "mark": {"type": "bar", "opacity": 0.5},
   "encoding": {
    "x": {"field": "lo", "type": "quantitative", "scale": {"domain": [0.016, 0.764], "nice": false, "zero": false},
     "axis": {"title": "Mean Chl-a (mg.m-3)", "values": [0.1,0.2,0.3,0.4,0.5,0.6,0.7], "format": ".1f", "labelExpr": "replace(datum.label, '\u2212', '-')"}},
    "x2": {"field": "hi"},
    "y": {"field": "f", "type": "quantitative", "stack": null, "scale": {"domain": [-0.91, 19.11], "nice": false, "zero": false},
     "axis": {"title": null, "values": [0,5,10,15], "format": "d"}},
    "y2": {"datum": 0},
    "color": {"field": "g", "type": "nominal", "scale": {"domain": ["NLOG = 0", "NLOG > 0"], "range": ["#3282cd", "#ffff00"]}, "legend": {"title": "NLOG abundance index (Number per observation effort)"}}
   }},
  {"data": {"values": [{}]}, "mark": {"type": "text", "font": "Liberation Sans", "fontSize": 24, "fontWeight": "bold", "color": "#000000"},
   "encoding": {"x": {"datum": 0.678, "type": "quantitative", "scale": {"domain": [0.016, 0.764], "nice": false, "zero": false}, "axis": {"orient": "top", "values": [0.05,0.15,0.25,0.35,0.45,0.55,0.65,0.75], "grid": true, "gridWidth": 0.7, "labels": false, "ticks": false, "domain": false, "title": null, "minExtent": 0, "maxExtent": 0}},
    "y": {"datum": 16.4, "type": "quantitative", "scale": {"domain": [-0.91, 19.11], "nice": false, "zero": false}, "axis": {"orient": "right", "values": [2.5,7.5,12.5,17.5], "grid": true, "gridWidth": 0.7, "labels": false, "ticks": false, "domain": false, "title": null, "minExtent": 0, "maxExtent": 0}},
    "text": {"value": "(j)"}}},
  {"data": {"values": [{}]}, "mark": {"type": "text", "font": "Liberation Sans", "fontSize": 21, "fontWeight": "bold", "fontStyle": "italic", "color": "#000000"},
   "encoding": {"x": {"datum": 0.692, "type": "quantitative", "scale": {"domain": [0.016, 0.764], "nice": false, "zero": false}, "axis": null}, "y": {"datum": 12.9, "type": "quantitative", "scale": {"domain": [-0.91, 19.11], "nice": false, "zero": false}, "axis": null}, "text": {"value": "P = 0.019"}}}
 ]}
]}
],
"config": {
 "font": "Liberation Sans",
 "view": {"fill": "#EBEBEB", "stroke": null},
 "axis": {"labelFont": "Liberation Sans", "labelFontSize": 23, "labelColor": "#4d4d4d", "titleFont": "Liberation Sans", "titleFontSize": 24, "titleFontWeight": "normal", "titleColor": "#000000", "tickColor": "#333333", "tickSize": 4, "tickWidth": 1.1, "labelPadding": 1, "domain": false, "grid": true, "gridColor": "#ffffff", "gridWidth": 1.5, "labelOverlap": false, "labelFlush": false, "labelBound": false},
 "axisX": {"titlePadding": 5},
 "axisY": {"titlePadding": 6},
 "legend": {"orient": "none", "legendX": 104, "legendY": 1702, "direction": "horizontal", "titleOrient": "left", "titleFont": "Liberation Sans", "titleFontSize": 24, "titleFontWeight": "normal", "titleColor": "#000000", "titleLimit": 1000, "titlePadding": 12, "labelFont": "Liberation Sans", "labelFontSize": 24, "labelColor": "#000000", "labelLimit": 400, "labelOffset": 8, "symbolType": "square", "symbolSize": 260, "symbolOpacity": 0.5, "symbolStrokeWidth": 0, "columnPadding": 20}
}
}
